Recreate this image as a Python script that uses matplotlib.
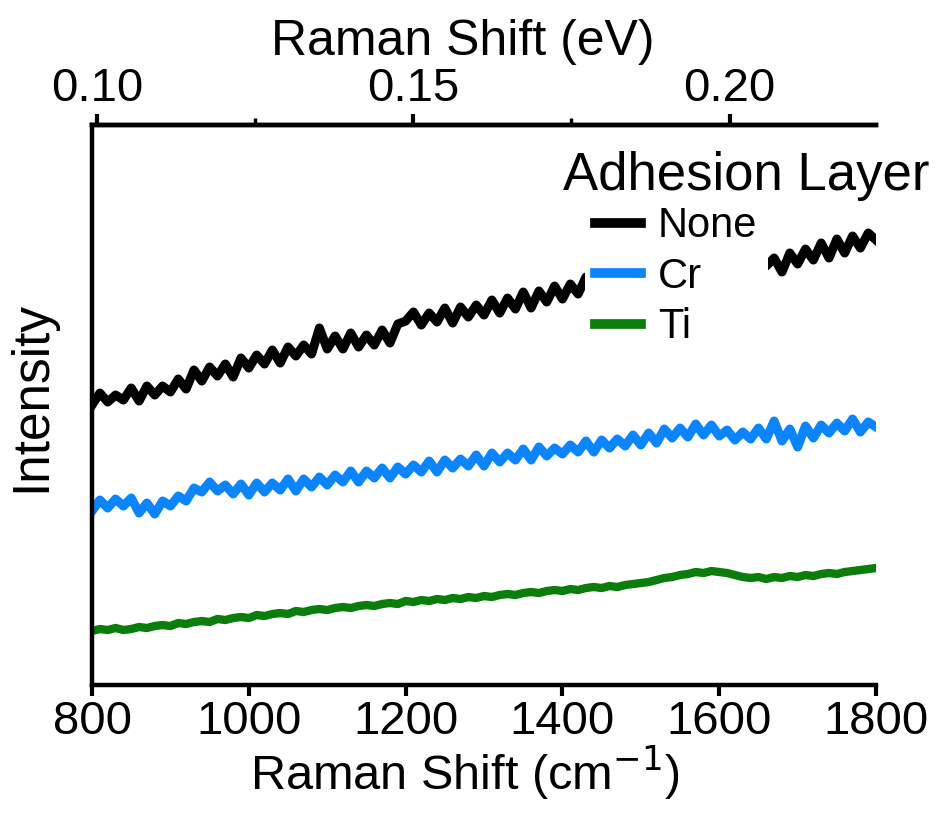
import matplotlib
matplotlib.use("Agg")
import matplotlib.pyplot as plt
from matplotlib.lines import Line2D
import numpy as np

plt.rcParams['font.family'] = ['Liberation Sans', 'DejaVu Sans']

# Raman shift grid (cm^-1), one point every 10 cm^-1
shift = np.arange(800, 1801, 10)

# intensities (arbitrary units)
none_int = [280, 292, 283, 290, 285, 297, 284, 299, 290, 299,
            293, 306, 296, 315, 304, 318, 309, 321, 308, 327,
            317, 330, 321, 335, 322, 338, 329, 340, 331, 357,
            336, 349, 336, 352, 338, 350, 340, 355, 342, 361,
            364, 373, 360, 372, 363, 377, 362, 378, 368, 380,
            370, 385, 372, 387, 376, 393, 377, 394, 383, 399,
            386, 401, 391, 408, 397, 400, 398, 403, 401, 406,
            403, 408, 405, 410, 407, 412, 409, 414, 411, 416,
            413, 418, 415, 420, 417, 422, 419, 427, 413, 432,
            421, 436, 425, 442, 427, 446, 432, 449, 437, 452,
            445]
cr_int = [174, 185, 177, 186, 179, 187, 172, 182, 171, 184,
          179, 189, 184, 197, 193, 203, 194, 200, 191, 201,
          190, 202, 193, 202, 195, 206, 194, 206, 198, 208,
          200, 210, 203, 214, 203, 214, 207, 217, 207, 218,
          211, 220, 213, 224, 213, 225, 217, 226, 219, 230,
          219, 232, 223, 232, 225, 236, 225, 238, 229, 237,
          231, 240, 233, 244, 233, 245, 237, 246, 239, 250,
          240, 252, 242, 256, 247, 257, 248, 261, 250, 260,
          249, 255, 245, 253, 246, 257, 246, 264, 244, 256,
          238, 259, 247, 260, 252, 262, 254, 266, 253, 263,
          258]
ti_int = [54, 56, 55, 57, 55, 56, 58, 57, 59, 60,
          59, 62, 61, 63, 64, 63, 66, 65, 67, 68,
          67, 70, 69, 71, 72, 71, 74, 73, 75, 76,
          75, 77, 78, 77, 79, 80, 79, 81, 82, 81,
          84, 83, 85, 84, 86, 85, 87, 86, 88, 87,
          89, 88, 90, 91, 90, 92, 93, 92, 94, 95,
          94, 96, 95, 97, 98, 97, 99, 98, 100, 101,
          102, 103, 105, 107, 108, 110, 111, 113, 112, 114,
          113, 112, 110, 108, 107, 108, 106, 108, 107, 109,
          108, 110, 109, 111, 112, 111, 113, 114, 115, 116,
          117]

labels = ['None', 'Cr', 'Ti']
colors = ['black', '#0a84ff', '#0a7d0a']
widths = [6.5, 6.5, 6]

CM_PER_EV = 8065.54

fig = plt.figure(figsize=(9.42, 8.15), dpi=100)
ax = fig.add_axes([0.0977, 0.1595, 0.8323, 0.6871])

for y, c, w in zip([none_int, cr_int, ti_int], colors, widths):
    ax.plot(shift, y, color=c, lw=w, solid_joinstyle='round')

ax.set_xlim(800, 1800)
ax.set_ylim(0, 560)
ax.set_yticks([])
ax.set_xticks([800, 1000, 1200, 1400, 1600, 1800])
ax.spines['right'].set_visible(False)
for s in ['left', 'bottom', 'top']:
    ax.spines[s].set_linewidth(3.2)
ax.tick_params(axis='x', direction='out', length=8, width=3, labelsize=34, pad=3)
ax.set_xlabel(r'Raman Shift (cm$^{-1}$)', fontsize=35, labelpad=0, x=0.475)
ax.set_ylabel('Intensity', fontsize=37, labelpad=26, y=0.515)

# top axis in eV
top = ax.secondary_xaxis('top', functions=(lambda x: x / CM_PER_EV, lambda e: e * CM_PER_EV))
top.set_xticks([0.10, 0.15, 0.20])
top.set_xticks([0.125, 0.175], minor=True)
top.set_xticklabels(['0.10', '0.15', '0.20'])
top.spines['top'].set_linewidth(3.2)
top.tick_params(which='major', direction='out', length=8, width=3, labelsize=34, pad=2)
top.tick_params(which='minor', direction='out', length=5, width=2.5)
top.set_xlabel('Raman Shift (eV)', fontsize=36, labelpad=9, x=0.473)

# legend entries with a white box that hides part of the "None" trace
handles = [Line2D([], [], color=c, lw=7) for c in colors]
leg = ax.legend(handles, labels, loc='upper left', fontsize=30,
                bbox_to_anchor=(585 / 942, 1 - 196 / 815), bbox_transform=fig.transFigure,
                frameon=True, fancybox=False, borderaxespad=0, borderpad=0.25,
                handlelength=1.1, handletextpad=0.4, labelspacing=0.25)
leg.get_frame().set_facecolor('white')
leg.get_frame().set_edgecolor('none')
leg.get_frame().set_alpha(1)
fig.text(563 / 942, 1 - 176 / 815, 'Adhesion Layer', fontsize=38, ha='left', va='center')

fig.savefig('out.png', dpi=100)
